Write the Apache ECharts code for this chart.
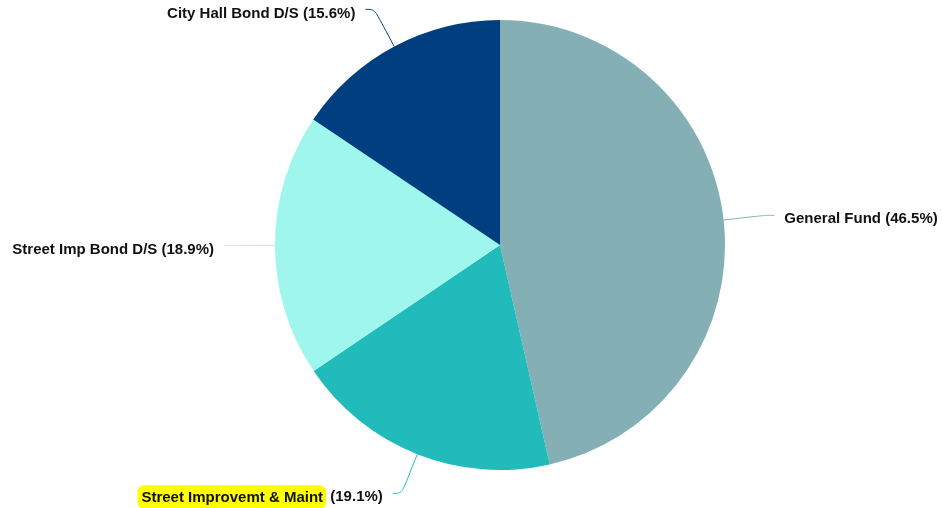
<!DOCTYPE html>
<html>
<head>
<meta charset="utf-8">
<script src="https://cdn.jsdelivr.net/npm/echarts@6/dist/echarts.min.js"></script>
<style>
  html, body { margin: 0; padding: 0; background: #fff; }
  #chart { width: 942px; height: 508px; }
</style>
</head>
<body>
<div id="chart"></div>
<script>
// Fund shares (percent), clockwise from 12 o'clock
const categories = ['General Fund', 'Street Improvemt & Maint', 'Street Imp Bond D/S', 'City Hall Bond D/S'];
const shares = [46.5, 19.1, 18.9, 15.6];
const colors = ['#84AFB5', '#22BBBB', '#9FF6EC', '#003F7F'];
const highlighted = 'Street Improvemt & Maint';

const chart = echarts.init(document.getElementById('chart'));

const data = categories.map((name, i) => {
  const item = { name: name, value: shares[i], itemStyle: { color: colors[i] } };
  if (name === highlighted) {
    item.label = { formatter: '{hl|{b}} ({c}%)' };
  }
  return item;
});

const labelFont = {
  fontFamily: 'Liberation Sans, Arial, sans-serif',
  fontSize: 15,
  fontWeight: 'bold',
  color: '#111'
};

chart.setOption({
  animation: false,
  series: [{
    type: 'pie',
    center: [500, 245],
    radius: 225,
    startAngle: 90,
    clockwise: true,
    avoidLabelOverlap: false,
    data: data,
    label: Object.assign({
      formatter: '{b} ({c}%)',
      distanceToLabelLine: 10,
      padding: [8, 0, 0, 0],
      rich: {
        hl: Object.assign({
          backgroundColor: '#FFFF00',
          borderRadius: 7,
          padding: [5, 3, 4, 4]
        }, labelFont)
      }
    }, labelFont),
    labelLine: {
      show: true,
      length: 42,
      length2: 9,
      smooth: 0.35,
      lineStyle: { width: 1 }
    }
  }]
});
</script>
</body>
</html>
